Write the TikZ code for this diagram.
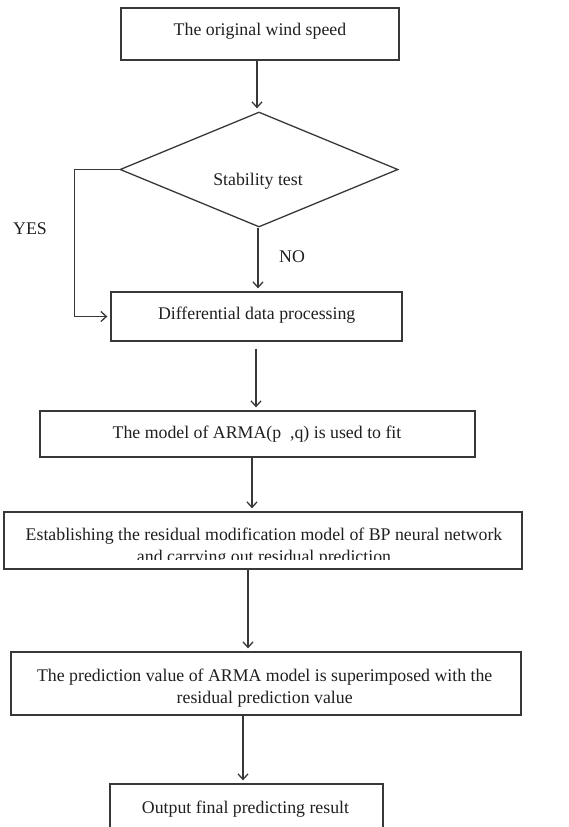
\documentclass[tikz,border=0pt]{standalone}
\usepackage{fontspec}
\setmainfont{Liberation Serif}
\usetikzlibrary{arrows.meta,shapes.geometric}
\begin{document}
\begin{tikzpicture}[x=1pt,y=-1pt]
\tikzset{
  box/.style={draw=black!78, line width=1.3pt, rectangle, inner sep=0pt},
  decision/.style={draw=black!78, line width=1.3pt, diamond, inner sep=0pt, aspect=2.4},
  txt/.style={font=\fontsize{17.8}{22}\selectfont, text=black!88, inner sep=0pt, align=center},
  arr/.style={draw=black!78, line width=1.3pt, -{Straight Barb[length=5.5pt,width=10pt]}, shorten >=3pt},
}
\useasboundingbox (0,0) rectangle (568,827);
\clip (0,0) rectangle (568,827);

% boxes
\node[box, minimum width=278pt, minimum height=52pt] (b1) at (260,34) {};
\node[decision, minimum width=278pt, minimum height=115pt] (d) at (259,169.5) {};
\node[box, minimum width=291pt, minimum height=49pt] (b2) at (256.5,316.5) {};
\node[box, minimum width=435pt, minimum height=46pt] (b3) at (257.5,434) {};
\node[box, minimum width=518pt, minimum height=57pt] (b4) at (263,540.5) {};
\node[box, minimum width=510pt, minimum height=63pt] (b5) at (266,683.5) {};
\node[box, minimum width=273pt, minimum height=60pt] (b6) at (246.5,814) {};

% texts (multi-line nodes are anchored at the baseline of their last line)
\node[txt, anchor=base] (t1) at (260,35) {The original wind speed};
\node[txt, anchor=base] (td) at (258,185) {Stability test};
\node[txt, anchor=base] (t2) at (256.7,319) {Differential data processing};
\node[txt, anchor=base] (t3) at (257,438) {The model of ARMA(p\ \ ,q) is used to fit};
\begin{scope}
  \clip (0,500) rectangle (568,559);
  \node[txt, anchor=base] (t4) at (264,562) {Establishing the residual modification model of BP neural network\\and carrying out residual prediction};
\end{scope}
\node[txt, anchor=base] (t5) at (264.7,703) {The prediction value of ARMA model is superimposed with the\\residual prediction value};
\node[txt, anchor=base] (t6) at (245.5,813) {Output final predicting result};

\node[txt] (yes) at (30,229) {YES};
\node[txt] (no) at (292,257) {NO};

% connectors
\draw[arr] (b1.south -| 257,0) -- (d.north -| 257,0);
\draw[arr] (d.south -| 258,0) -- (b2.north -| 258,0);
\draw[arr] (d.west) -- ++(-45,0) |- (b2.west);
\draw[arr, shorten <=7pt] (b2.south -| 256,0) -- (b3.north -| 256,0);
\draw[arr] (b3.south -| 252,0) -- (b4.north -| 252,0);
\draw[arr] (b4.south -| 248,0) -- (b5.north -| 248,0);
\draw[arr] (b5.south -| 243,0) -- (b6.north -| 243,0);
\end{tikzpicture}
\end{document}
